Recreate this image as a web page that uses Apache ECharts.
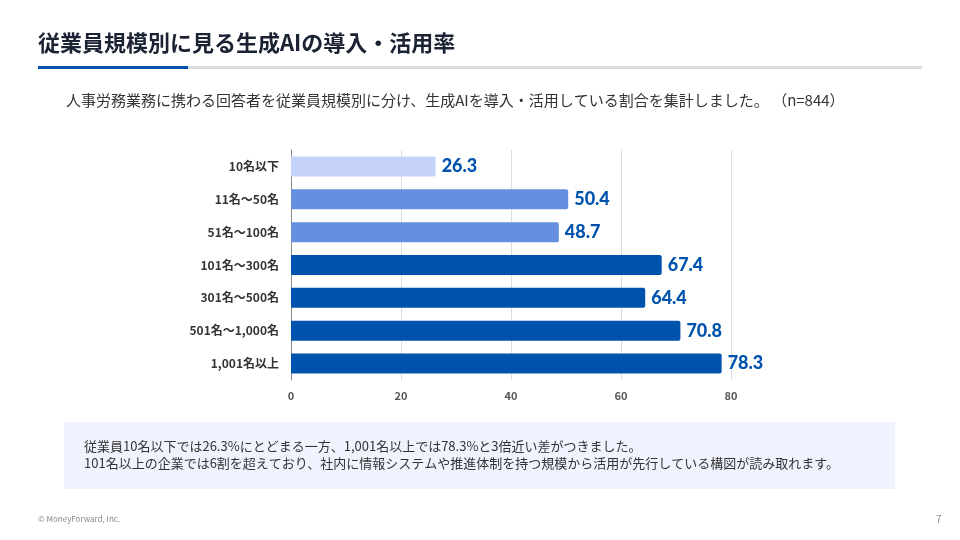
<!DOCTYPE html>
<html><head><meta charset="utf-8">
<script src="https://cdn.jsdelivr.net/npm/echarts@6/dist/echarts.min.js"></script>
<style>body{margin:0}#c{width:960px;height:540px}</style></head>
<body><div id="c"></div>
<script>
const categories=['10名以下','11名～50名','51名～100名','101名～300名','301名～500名','501名～1,000名','1,001名以上'];
const values=[26.3,50.4,48.7,67.4,64.4,70.8,78.3];
const colors=['#c5d3fb','#6590e0','#6590e0','#0053ad','#0053ad','#0053ad','#0053ad'];
const F='"Noto Sans CJK JP","Noto Sans",sans-serif';
const c=echarts.init(document.getElementById('c'));
c.setOption({
 textStyle:{fontFamily:F},
 graphic:[
  {type:'text',left:38,top:32,style:{text:'従業員規模別に見る生成AIの導入・活用率',font:'bold 22px '+F,fill:'#1a2233'}},
  {type:'rect',shape:{x:38,y:66,width:884,height:3},style:{fill:'#dcdde3'}},
  {type:'rect',shape:{x:38,y:66,width:150,height:3},style:{fill:'#0053ad'}},
  {type:'text',left:66,top:93,style:{text:'人事労務業務に携わる回答者を従業員規模別に分け、生成AIを導入・活用している割合を集計しました。 （n=844）',font:'15px '+F,fill:'#333'}},
  {type:'rect',shape:{x:64,y:422,width:831,height:67},style:{fill:'#f0f3fd'}},
  {type:'text',left:84,top:438,style:{text:'従業員10名以下では26.3%にとどまる一方、1,001名以上では78.3%と3倍近い差がつきました。\n101名以上の企業では6割を超えており、社内に情報システムや推進体制を持つ規模から活用が先行している構図が読み取れます。',font:'13px '+F,fill:'#333',lineHeight:17}},
  {type:'text',left:38,top:515,style:{text:'© MoneyForward, Inc.',font:'8px '+F,fill:'#888'}},
  {type:'text',left:936,top:514,style:{text:'7',font:'10px '+F,fill:'#888'}}
 ],
 grid:{left:291,right:229,top:150,bottom:160},
 xAxis:{type:'value',min:0,max:80,interval:20,
  axisLabel:{fontSize:11,color:'#555',fontWeight:'bold',margin:10},
  splitLine:{lineStyle:{color:'#ddd'}},axisLine:{show:false}},
 yAxis:{type:'category',inverse:true,data:categories,
  axisTick:{show:false},axisLine:{lineStyle:{color:'#888'}},
  axisLabel:{fontSize:12,fontWeight:'bold',color:'#333',margin:12}},
 series:[{type:'bar',barWidth:20,
  data:values.map((v,i)=>({value:v,itemStyle:{color:colors[i],borderRadius:[0,2,2,0]}})),
  label:{show:true,position:'right',distance:6,fontSize:18,fontWeight:900,color:'#0053ad',fontFamily:'Lato, '+F}}]
});
</script></body></html>
